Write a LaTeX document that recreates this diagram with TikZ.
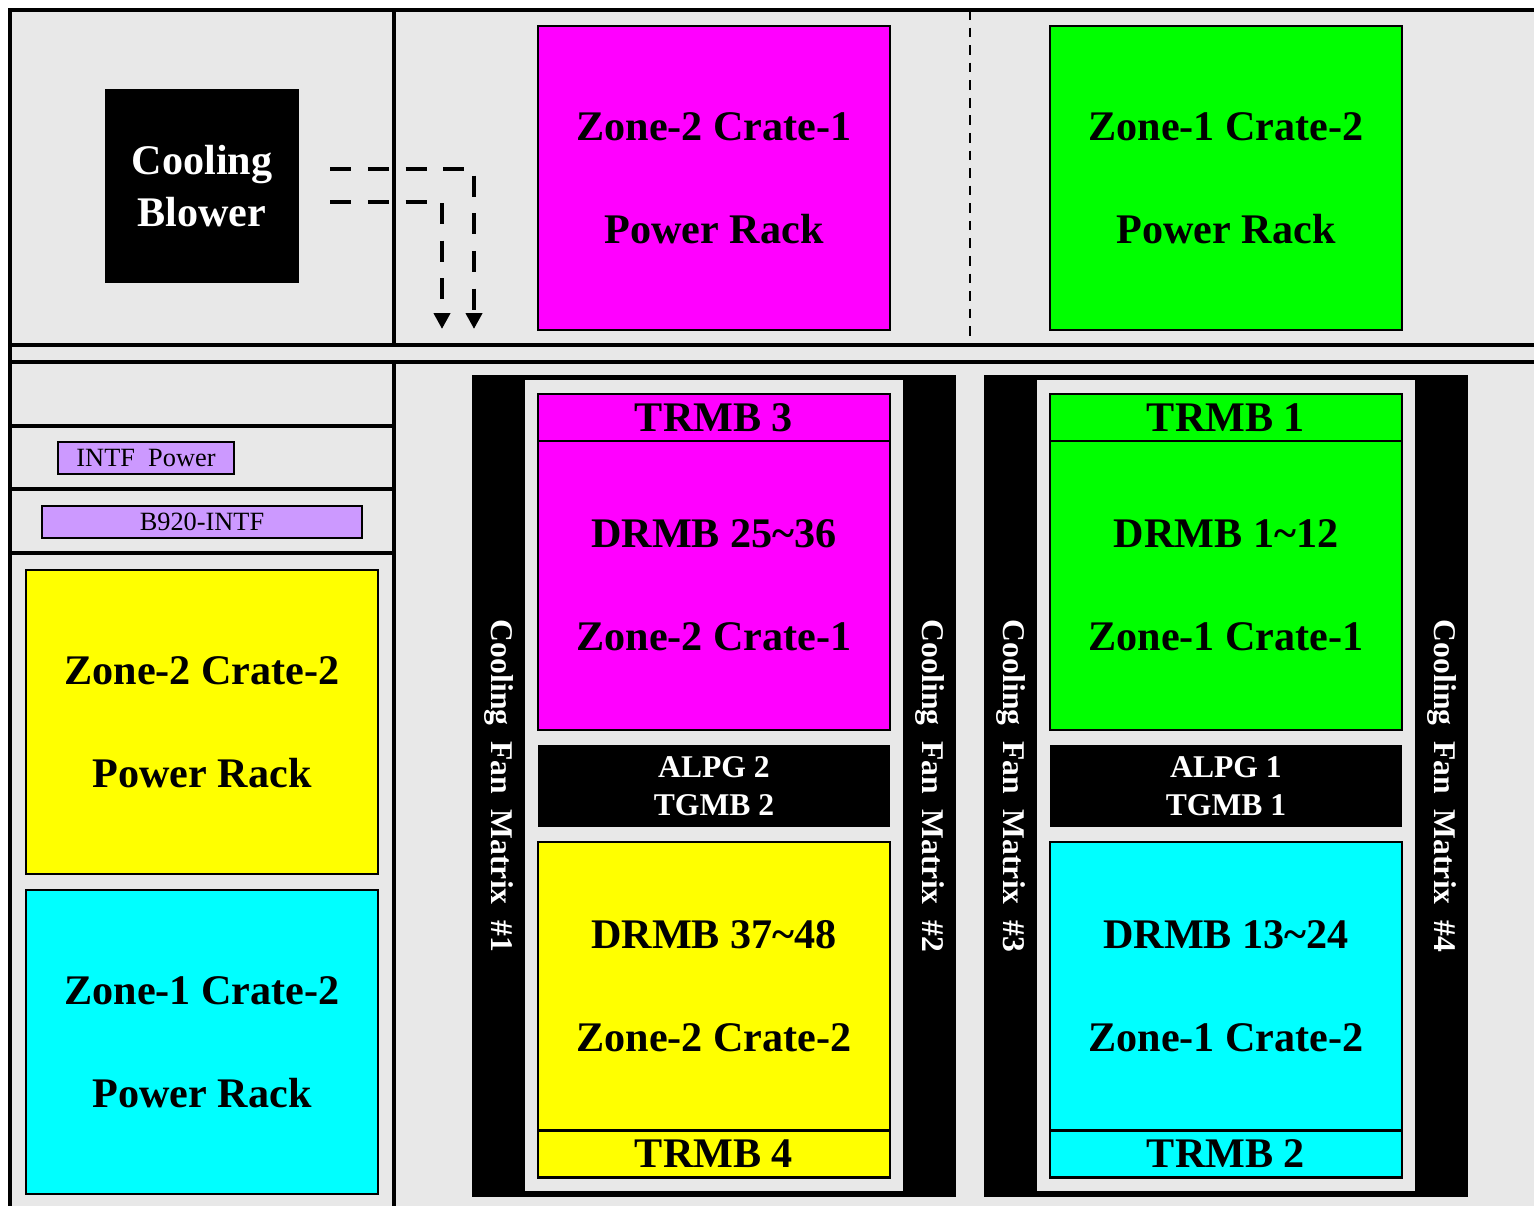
\documentclass[tikz,border=0pt]{standalone}
\usepackage{fontspec}
\setmainfont{Liberation Serif}
\usepackage{tikz}
\usetikzlibrary{calc,arrows.meta,positioning}
\definecolor{rackGray}{RGB}{232,232,232}
\definecolor{rackMagenta}{RGB}{255,0,255}
\definecolor{rackGreen}{RGB}{0,255,0}
\definecolor{rackYellow}{RGB}{255,255,0}
\definecolor{rackCyan}{RGB}{0,255,255}
\definecolor{rackLilac}{RGB}{204,153,255}

\begin{document}
\begin{tikzpicture}[x=0.02cm,y=-0.02cm,
    wall/.style={line width=2.8pt},
    rackbox/.style={draw, line width=1.4pt, inner sep=0pt, minimum width=7.04cm, align=center,
        font=\bfseries\fontsize{24}{58.5}\selectfont},
    trmb/.style={rackbox, minimum height=0.94cm, font=\bfseries\fontsize{24}{28}\selectfont},
    alpg/.style={fill=black, text=white, inner sep=0pt, minimum width=7.04cm, minimum height=1.64cm,
        align=center, font=\bfseries\fontsize{18}{21.5}\selectfont},
    intfbox/.style={draw, line width=1.1pt, fill=rackLilac, inner sep=0pt, minimum height=0.64cm,
        font=\fontsize{15}{18}\selectfont},
    fantext/.style={text=white, rotate=-90, font=\bfseries\fontsize{18}{22}\selectfont},
    airflow/.style={line width=2.3pt, dash pattern=on 12pt off 9.4pt,
        -{Triangle[width=9pt,length=9pt]}}]
    \useasboundingbox (0,0) rectangle (1534,1206);

    % floor
    \fill[rackGray] (10,10) rectangle (1534,1206);

    % walls
    \draw[wall] (1534,10) -- (10,10) -- (10,1206);
    \draw[wall] (10,345) -- (1534,345);
    \draw[wall] (10,362) -- (1534,362);
    \draw[wall] (394,10) -- (394,345);
    \draw[wall] (394,362) -- (394,1206);
    \foreach \yy in {426,489,553}
        \draw[wall] (10,\yy) -- (394,\yy);
    \draw[line width=0.8pt, dash pattern=on 5.5pt off 4.5pt] (970,10) -- (970,345);

    % blower and air ducts
    \node[fill=black, text=white, inner sep=0pt, minimum width=3.88cm, minimum height=3.88cm,
        align=center, font=\bfseries\fontsize{24}{30}\selectfont] (blower) at (202,186) {Cooling\\Blower};
    \coordinate (ductA) at (474,329);
    \coordinate (ductB) at (442,329);
    \draw[airflow] ($(blower.east)+(31,-17)$) -| (ductA);
    \draw[airflow] ($(blower.east)+(31,16)$) -| (ductB);

    % power racks, top row
    \node[rackbox, fill=rackMagenta, minimum height=6.08cm] (prZtwoCone) at (714,178) {Zone-2 Crate-1\\Power Rack};
    \node[rackbox, fill=rackGreen, minimum height=6.08cm] (prZoneCtwo) at (1226,178) {Zone-1 Crate-2\\Power Rack};

    % left column
    \node[intfbox, minimum width=3.52cm] (intfPower) at (146,458) {INTF~~Power};
    \node[intfbox, minimum width=6.4cm] (intfBoard) at (202,522) {B920-INTF};
    \node[rackbox, fill=rackYellow, minimum height=6.08cm] (prZtwoCtwo) at (202,722) {Zone-2 Crate-2\\Power Rack};
    \node[rackbox, fill=rackCyan, minimum height=6.08cm] (prZoneCtwoB) at (202,1042) {Zone-1 Crate-2\\Power Rack};

    % fan frames
    \fill[black] (472,375) rectangle (956,1197);
    \fill[rackGray] (525,380) rectangle (903,1191);
    \fill[black] (984,375) rectangle (1468,1197);
    \fill[rackGray] (1037,380) rectangle (1415,1191);
    \node[fantext] (fanA) at (498.5,786) {Cooling~~Fan~~Matrix~~\#1};
    \node[fantext] (fanB) at (929.5,786) {Cooling~~Fan~~Matrix~~\#2};
    \node[fantext] (fanC) at (1010.5,786) {Cooling~~Fan~~Matrix~~\#3};
    \node[fantext] (fanD) at (1441.5,786) {Cooling~~Fan~~Matrix~~\#4};

    % zone-2 crates
    \node[trmb, fill=rackMagenta] (trmbC) at (714,417.5) {TRMB 3};
    \node[rackbox, fill=rackMagenta, minimum height=5.78cm] (drmbC) at (714,585.5) {DRMB 25\textasciitilde 36\\Zone-2 Crate-1};
    \node[alpg] (alpgB) at (714,786) {ALPG 2\\TGMB 2};
    \node[rackbox, fill=rackYellow, minimum height=5.76cm] (drmbD) at (714,986) {DRMB 37\textasciitilde 48\\Zone-2 Crate-2};
    \node[trmb, fill=rackYellow] (trmbD) at (714,1154) {TRMB 4};

    % zone-1 crates
    \node[trmb, fill=rackGreen] (trmbA) at (1226,417.5) {TRMB 1};
    \node[rackbox, fill=rackGreen, minimum height=5.78cm] (drmbA) at (1226,585.5) {DRMB 1\textasciitilde 12\\Zone-1 Crate-1};
    \node[alpg] (alpgA) at (1226,786) {ALPG 1\\TGMB 1};
    \node[rackbox, fill=rackCyan, minimum height=5.76cm] (drmbB) at (1226,986) {DRMB 13\textasciitilde 24\\Zone-1 Crate-2};
    \node[trmb, fill=rackCyan] (trmbB) at (1226,1154) {TRMB 2};
\end{tikzpicture}
\end{document}
